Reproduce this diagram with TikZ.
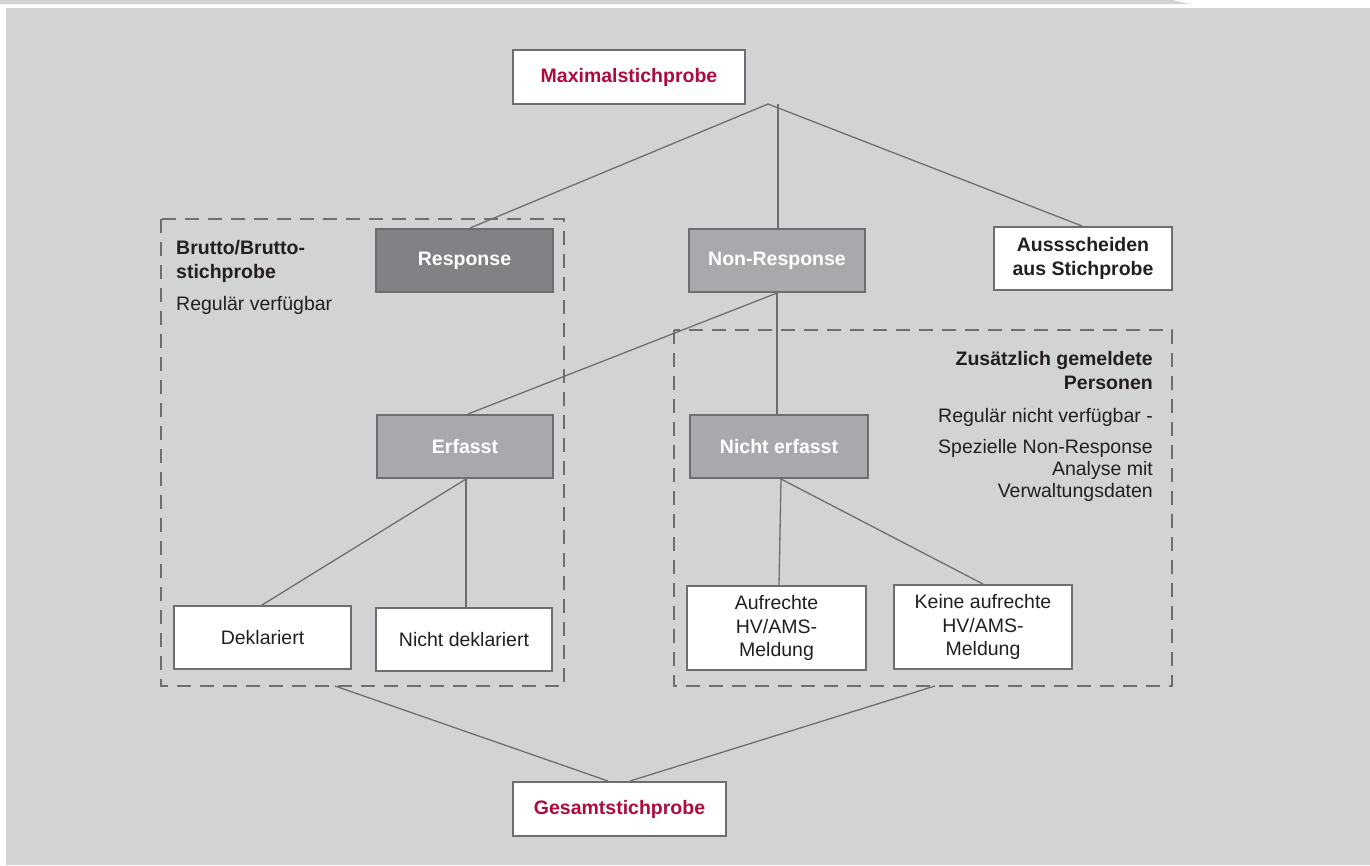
\documentclass[tikz,border=0pt]{standalone}
\usepackage{fontspec}
\setmainfont{Liberation Sans}
\definecolor{bgc}{HTML}{D1D3D4}
\definecolor{linec}{HTML}{6D6E71}
\definecolor{respc}{HTML}{808285}
\definecolor{nonc}{HTML}{A7A9AC}
\definecolor{redc}{HTML}{AE0A3E}
\definecolor{txtc}{HTML}{231F20}
\newcommand{\fsz}{\fontsize{19.5}{23.5}\selectfont}
\begin{document}
\begin{tikzpicture}[x=1pt,y=-1pt,
  box/.style={draw=linec, line width=2pt, inner sep=1pt, align=center, font=\fsz, text=txtc},
  wbox/.style={box, fill=white},
  rbox/.style={box, fill=respc, text=white, font=\fsz\bfseries},
  nbox/.style={box, fill=nonc, text=white, font=\fsz\bfseries},
  conn/.style={draw=linec, line width=1.3pt},
  dbox/.style={draw=linec, line width=2pt, dash pattern=on 14pt off 9pt},
  lbl/.style={inner sep=0pt, font=\fsz, text=txtc}]
\useasboundingbox (0,0) rectangle (1370,865);
\fill[white] (0,0) rectangle (1370,865);
\fill[bgc] (6,8) rectangle (1370,865);
\fill[bgc] (0,0) -- (1170,0) to[out=0,in=180] (1192,4) -- (0,4) -- cycle;

% dashed groups
\draw[dbox] (161,219) rectangle (564,686);
\draw[dbox] (674,330) rectangle (1172,686);

% nodes
\node[wbox, minimum width=232, minimum height=54, font=\fsz\bfseries, text=redc] (max) at (629,77) {Maximalstichprobe};
\node[rbox, minimum width=177, minimum height=63] (resp) at (464.5,260.5) {Response};
\node[nbox, minimum width=176, minimum height=63] (nonr) at (777,260.5) {Non-Response};
\node[wbox, minimum width=178, minimum height=63, font=\fsz\bfseries] (aus) at (1083,258.5) {Aussscheiden\\aus Stichprobe};
\node[nbox, minimum width=176, minimum height=63] (erf) at (465,446.5) {Erfasst};
\node[nbox, minimum width=178, minimum height=63] (nerf) at (779,446.5) {Nicht erfasst};
\node[wbox, minimum width=177, minimum height=63] (dek) at (262.5,637.5) {Deklariert};
\node[wbox, minimum width=176, minimum height=63] (ndek) at (464,639.5) {Nicht deklariert};
\node[wbox, minimum width=179, minimum height=84] (auf) at (776.5,628) {Aufrechte\\HV/AMS-\\Meldung};
\node[wbox, minimum width=178, minimum height=84] (kauf) at (983,627) {Keine aufrechte\\HV/AMS-\\Meldung};
\node[wbox, minimum width=213, minimum height=54, font=\fsz\bfseries, text=redc] (ges) at (619.5,809) {Gesamtstichprobe};

% group labels (base anchor = baseline of last line)
\node[lbl, anchor=base west, align=left, font=\fsz\bfseries] (brutto) at (176,278) {Brutto/Brutto-\\stichprobe};
\node[lbl, anchor=base west] (regv) at (176,310) {Regulär verfügbar};
\node[lbl, anchor=base east, align=right, font=\fsz\bfseries] (zus) at (1153,389) {Zusätzlich gemeldete\\Personen};
\node[lbl, anchor=base east] (regnv) at (1153,422) {Regulär nicht verfügbar -};
\node[lbl, anchor=base east, align=right, font=\fontsize{19.5}{22}\selectfont] (spez) at (1153,497) {Spezielle Non-Response\\Analyse mit\\Verwaltungsdaten};

% connectors
\coordinate (mx) at (768,104);
\coordinate (lg) at (335,686);
\coordinate (rg) at (935,686);
\draw[conn] (mx) -- (resp.north -| 470,0);
\draw[conn] (778,104) -- (nonr.north -| 778,0);
\draw[conn] (mx) -- (aus.north -| 1082,0);
\draw[conn] (nonr.south -| 777,0) -- (erf.north -| 468,0);
\draw[conn] (nonr.south -| 777,0) -- (nerf.north -| 777,0);
\draw[conn] (erf.south -| 466,0) -- (dek.north -| 262,0);
\draw[conn] (erf.south -| 466,0) -- (ndek.north -| 466,0);
\draw[conn] (nerf.south -| 781,0) -- (auf.north -| 779,0);
\draw[conn] (nerf.south -| 781,0) -- (kauf.north -| 983,0);
\draw[conn] (lg) -- (ges.north -| 608,0);
\draw[conn] (rg) -- (ges.north -| 630,0);
\end{tikzpicture}
\end{document}
